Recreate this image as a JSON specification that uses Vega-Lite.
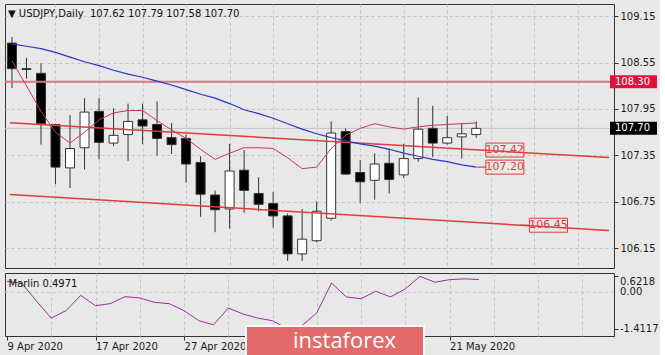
{
  "$schema": "https://vega.github.io/schema/vega-lite/v6.json",
  "background": "#e8e8e8",
  "padding": {"left": 3, "top": 3, "right": 0, "bottom": 0},
  "spacing": 3,
  "config": {
    "view": {"stroke": "#333333", "strokeWidth": 1, "fill": "#e8e8e8"},
    "font": "DejaVu Sans",
    "axis": {"labelFont": "DejaVu Sans", "labelFontSize": 10, "labelColor": "#1a1a1a", "tickColor": "#333333", "domain": false, "gridColor": "#c4c4c4", "gridDash": [3, 3], "gridWidth": 1, "title": null},
    "title": {"font": "DejaVu Sans", "fontSize": 10, "fontWeight": "normal", "color": "#111111", "anchor": "start"}
  },
  "datasets": {
    "candles": [
      {"i": 0, "date": "9 Apr 2020", "open": 108.80, "high": 108.88, "low": 108.22, "close": 108.47, "ma": 108.79, "env": 108.57, "marlin": 0.42},
      {"i": 1, "date": "10 Apr 2020", "open": 108.47, "high": 108.61, "low": 108.34, "close": 108.46, "ma": 108.76, "env": 108.25, "marlin": 0.35},
      {"i": 2, "date": "13 Apr 2020", "open": 108.41, "high": 108.54, "low": 107.49, "close": 107.76, "ma": 108.73, "env": 107.92, "marlin": -0.34},
      {"i": 3, "date": "14 Apr 2020", "open": 107.75, "high": 107.76, "low": 106.98, "close": 107.20, "ma": 108.68, "env": 107.65, "marlin": -1.00},
      {"i": 4, "date": "15 Apr 2020", "open": 107.19, "high": 107.87, "low": 106.93, "close": 107.44, "ma": 108.62, "env": 107.51, "marlin": -0.71},
      {"i": 5, "date": "16 Apr 2020", "open": 107.45, "high": 108.09, "low": 107.17, "close": 107.91, "ma": 108.56, "env": 107.65, "marlin": -0.12},
      {"i": 6, "date": "17 Apr 2020", "open": 107.92, "high": 108.09, "low": 107.30, "close": 107.52, "ma": 108.51, "env": 107.81, "marlin": -0.52},
      {"i": 7, "date": "20 Apr 2020", "open": 107.51, "high": 107.96, "low": 107.47, "close": 107.61, "ma": 108.45, "env": 107.90, "marlin": -0.44},
      {"i": 8, "date": "21 Apr 2020", "open": 107.62, "high": 108.02, "low": 107.28, "close": 107.79, "ma": 108.40, "env": 107.93, "marlin": -0.17},
      {"i": 9, "date": "22 Apr 2020", "open": 107.81, "high": 108.02, "low": 107.50, "close": 107.73, "ma": 108.36, "env": 107.93, "marlin": -0.22},
      {"i": 10, "date": "23 Apr 2020", "open": 107.75, "high": 108.05, "low": 107.35, "close": 107.57, "ma": 108.31, "env": 107.80, "marlin": -0.39},
      {"i": 11, "date": "24 Apr 2020", "open": 107.58, "high": 107.77, "low": 107.37, "close": 107.49, "ma": 108.26, "env": 107.68, "marlin": -0.44},
      {"i": 12, "date": "27 Apr 2020", "open": 107.57, "high": 107.62, "low": 107.00, "close": 107.24, "ma": 108.20, "env": 107.57, "marlin": -0.71},
      {"i": 13, "date": "28 Apr 2020", "open": 107.26, "high": 107.34, "low": 106.56, "close": 106.85, "ma": 108.14, "env": 107.43, "marlin": -1.10},
      {"i": 14, "date": "29 Apr 2020", "open": 106.84, "high": 106.90, "low": 106.36, "close": 106.65, "ma": 108.09, "env": 107.30, "marlin": -1.26},
      {"i": 15, "date": "30 Apr 2020", "open": 106.66, "high": 107.50, "low": 106.41, "close": 107.15, "ma": 108.02, "env": 107.38, "marlin": -0.61},
      {"i": 16, "date": "1 May 2020", "open": 107.16, "high": 107.42, "low": 106.61, "close": 106.90, "ma": 107.94, "env": 107.45, "marlin": -0.84},
      {"i": 17, "date": "4 May 2020", "open": 106.86, "high": 107.07, "low": 106.63, "close": 106.72, "ma": 107.89, "env": 107.45, "marlin": -1.00},
      {"i": 18, "date": "5 May 2020", "open": 106.73, "high": 106.88, "low": 106.42, "close": 106.57, "ma": 107.83, "env": 107.44, "marlin": -1.10},
      {"i": 19, "date": "6 May 2020", "open": 106.57, "high": 106.60, "low": 105.99, "close": 106.08, "ma": 107.76, "env": 107.32, "marlin": -1.41},
      {"i": 20, "date": "7 May 2020", "open": 106.08, "high": 106.66, "low": 105.99, "close": 106.27, "ma": 107.69, "env": 107.18, "marlin": -1.29},
      {"i": 21, "date": "8 May 2020", "open": 106.25, "high": 106.76, "low": 106.23, "close": 106.63, "ma": 107.63, "env": 107.20, "marlin": -0.80},
      {"i": 22, "date": "11 May 2020", "open": 106.54, "high": 107.79, "low": 106.51, "close": 107.64, "ma": 107.58, "env": 107.44, "marlin": 0.36},
      {"i": 23, "date": "12 May 2020", "open": 107.66, "high": 107.70, "low": 107.10, "close": 107.11, "ma": 107.54, "env": 107.61, "marlin": -0.18},
      {"i": 24, "date": "13 May 2020", "open": 107.13, "high": 107.29, "low": 106.74, "close": 107.01, "ma": 107.50, "env": 107.70, "marlin": -0.25},
      {"i": 25, "date": "14 May 2020", "open": 107.03, "high": 107.38, "low": 106.78, "close": 107.24, "ma": 107.47, "env": 107.76, "marlin": 0.04},
      {"i": 26, "date": "15 May 2020", "open": 107.25, "high": 107.44, "low": 106.86, "close": 107.04, "ma": 107.43, "env": 107.72, "marlin": -0.18},
      {"i": 27, "date": "18 May 2020", "open": 107.10, "high": 107.50, "low": 107.06, "close": 107.31, "ma": 107.38, "env": 107.69, "marlin": 0.13},
      {"i": 28, "date": "19 May 2020", "open": 107.31, "high": 108.10, "low": 107.27, "close": 107.69, "ma": 107.34, "env": 107.72, "marlin": 0.62},
      {"i": 29, "date": "20 May 2020", "open": 107.70, "high": 107.99, "low": 107.33, "close": 107.51, "ma": 107.30, "env": 107.74, "marlin": 0.39},
      {"i": 30, "date": "21 May 2020", "open": 107.51, "high": 107.86, "low": 107.49, "close": 107.58, "ma": 107.27, "env": 107.75, "marlin": 0.49},
      {"i": 31, "date": "22 May 2020", "open": 107.59, "high": 107.77, "low": 107.31, "close": 107.63, "ma": 107.23, "env": 107.76, "marlin": 0.52},
      {"i": 32, "date": "25 May 2020", "open": 107.62, "high": 107.79, "low": 107.58, "close": 107.70, "ma": 107.20, "env": 107.77, "marlin": 0.4971}
    ],
    "levels": [
      {"name": "resistance", "price": 108.30},
      {"name": "bid", "price": 107.70}
    ],
    "trend": [
      {"line": "upper", "i": -0.136, "price": 107.773},
      {"line": "upper", "i": 41.15, "price": 107.324},
      {"line": "lower", "i": -0.136, "price": 106.847},
      {"line": "lower", "i": 41.15, "price": 106.382}
    ],
    "labels": [
      {"label": "107.42", "i": 33.97, "price": 107.42},
      {"label": "107.20", "i": 33.97, "price": 107.20},
      {"label": "106.45", "i": 36.98, "price": 106.45}
    ],
    "marlinScale": [
      {"v": 0.6218, "t": "0.6218"},
      {"v": 0, "t": "0.00"},
      {"v": -1.4117, "t": "-1.4117"}
    ]
  },
  "vconcat": [
    {
      "width": 609,
      "height": 264,
      "title": {"text": "▼\u00a0USDJPY,Daily\u00a0\u00a0107.62\u00a0107.79\u00a0107.58\u00a0107.70", "offset": -15, "dx": 4},
      "layer": [
        {
          "data": {"name": "levels"},
          "transform": [{"filter": "datum.name == 'bid'"}],
          "mark": {"type": "rule", "color": "#c2c2c2", "strokeWidth": 1},
          "encoding": {
            "y": {"field": "price", "type": "quantitative", "scale": {"domain": [105.898, 109.305], "nice": false, "zero": false},
                  "axis": {"orient": "right", "values": [106.15, 106.75, 107.35, 107.95, 108.55, 109.15], "format": ".2f", "tickSize": 4, "labelPadding": 2, "grid": true, "title": null}}
          }
        },
        {
          "data": {"name": "candles"},
          "mark": {"type": "rule", "color": "#333333", "strokeWidth": 1, "clip": true},
          "encoding": {
            "x": {"field": "i", "type": "quantitative", "scale": {"domain": [-0.136, 41.15], "nice": false, "zero": false},
                  "axis": {"orient": "bottom", "values": [3, 6, 9, 12, 15, 18, 21, 24, 27, 30, 33, 36, 39], "labels": false, "ticks": false, "grid": true, "title": null}},
            "y": {"field": "low", "type": "quantitative", "scale": {"domain": [105.898, 109.305], "nice": false, "zero": false}},
            "y2": {"field": "high"}
          }
        },
        {
          "data": {"name": "candles"},
          "mark": {"type": "bar", "size": 9, "stroke": "#333333", "strokeWidth": 1, "clip": true},
          "encoding": {
            "x": {"field": "i", "type": "quantitative", "scale": {"domain": [-0.136, 41.15], "nice": false, "zero": false}},
            "y": {"field": "open", "type": "quantitative", "scale": {"domain": [105.898, 109.305], "nice": false, "zero": false}},
            "y2": {"field": "close"},
            "fill": {"condition": {"test": "datum.close >= datum.open", "value": "#ffffff"}, "value": "#000000"}
          }
        },
        {
          "data": {"name": "levels"},
          "transform": [{"filter": "datum.name == 'resistance'"}],
          "mark": {"type": "rule", "color": "#de7280", "strokeWidth": 2},
          "encoding": {
            "y": {"field": "price", "type": "quantitative", "scale": {"domain": [105.898, 109.305], "nice": false, "zero": false}}
          }
        },
        {
          "data": {"name": "trend"},
          "mark": {"type": "line", "color": "#e23b3b", "strokeWidth": 1.5, "clip": true},
          "encoding": {
            "x": {"field": "i", "type": "quantitative", "scale": {"domain": [-0.136, 41.15], "nice": false, "zero": false}},
            "y": {"field": "price", "type": "quantitative", "scale": {"domain": [105.898, 109.305], "nice": false, "zero": false}},
            "detail": {"field": "line"}
          }
        },
        {
          "data": {"name": "candles"},
          "mark": {"type": "line", "color": "#c8385c", "strokeWidth": 1, "clip": true},
          "encoding": {
            "x": {"field": "i", "type": "quantitative", "scale": {"domain": [-0.136, 41.15], "nice": false, "zero": false}},
            "y": {"field": "env", "type": "quantitative", "scale": {"domain": [105.898, 109.305], "nice": false, "zero": false}}
          }
        },
        {
          "data": {"name": "candles"},
          "mark": {"type": "line", "color": "#2b35c9", "strokeWidth": 1.2, "clip": true},
          "encoding": {
            "x": {"field": "i", "type": "quantitative", "scale": {"domain": [-0.136, 41.15], "nice": false, "zero": false}},
            "y": {"field": "ma", "type": "quantitative", "scale": {"domain": [105.898, 109.305], "nice": false, "zero": false}}
          }
        },
        {
          "data": {"name": "labels"},
          "transform": [{"filter": "datum.label != '107.42'"}],
          "mark": {"type": "rule", "color": "#e23b3b", "strokeWidth": 1.2, "xOffset": -28, "x2Offset": -19},
          "encoding": {
            "x": {"field": "i", "type": "quantitative", "scale": {"domain": [-0.136, 41.15], "nice": false, "zero": false}},
            "x2": {"field": "i"},
            "y": {"field": "price", "type": "quantitative", "scale": {"domain": [105.898, 109.305], "nice": false, "zero": false}}
          }
        },
        {
          "data": {"name": "labels"},
          "mark": {"type": "rect", "fillOpacity": 0, "stroke": "#e23b3b", "strokeWidth": 1, "xOffset": -19, "x2Offset": 19, "yOffset": -7, "y2Offset": 7},
          "encoding": {
            "x": {"field": "i", "type": "quantitative", "scale": {"domain": [-0.136, 41.15], "nice": false, "zero": false}},
            "x2": {"field": "i"},
            "y": {"field": "price", "type": "quantitative", "scale": {"domain": [105.898, 109.305], "nice": false, "zero": false}},
            "y2": {"field": "price"}
          }
        },
        {
          "data": {"name": "labels"},
          "mark": {"type": "text", "color": "#e23b3b", "fontSize": 11, "align": "center", "baseline": "middle", "font": "DejaVu Sans"},
          "encoding": {
            "x": {"field": "i", "type": "quantitative", "scale": {"domain": [-0.136, 41.15], "nice": false, "zero": false}},
            "y": {"field": "price", "type": "quantitative", "scale": {"domain": [105.898, 109.305], "nice": false, "zero": false}},
            "text": {"field": "label"}
          }
        },
        {
          "data": {"name": "levels"},
          "mark": {"type": "rect", "clip": false, "xOffset": 1, "x2Offset": 48, "yOffset": -6.5, "y2Offset": 6.5},
          "encoding": {
            "x": {"datum": 41.15, "type": "quantitative", "scale": {"domain": [-0.136, 41.15], "nice": false, "zero": false}},
            "x2": {"datum": 41.15},
            "y": {"field": "price", "type": "quantitative", "scale": {"domain": [105.898, 109.305], "nice": false, "zero": false}},
            "y2": {"field": "price"},
            "fill": {"condition": {"test": "datum.name == 'bid'", "value": "#000000"}, "value": "#dc143c"}
          }
        },
        {
          "data": {"name": "levels"},
          "mark": {"type": "text", "clip": false, "color": "#ffffff", "fontSize": 10, "align": "left", "baseline": "middle", "dx": 6, "font": "DejaVu Sans"},
          "encoding": {
            "x": {"datum": 41.15, "type": "quantitative", "scale": {"domain": [-0.136, 41.15], "nice": false, "zero": false}},
            "y": {"field": "price", "type": "quantitative", "scale": {"domain": [105.898, 109.305], "nice": false, "zero": false}},
            "text": {"field": "price", "format": ".2f"}
          }
        }
      ]
    },
    {
      "width": 609,
      "height": 63,
      "title": {"text": "Marlin 0.4971", "offset": -16, "dx": 4},
      "layer": [
        {
          "data": {"name": "marlinScale"},
          "transform": [{"filter": "datum.v == 0"}],
          "mark": {"type": "rule", "color": "#c4c4c4", "strokeWidth": 1, "strokeDash": [3, 3]},
          "encoding": {
            "y": {"field": "v", "type": "quantitative", "scale": {"domain": [-1.694, 0.748], "nice": false, "zero": false},
                  "axis": {"orient": "right", "values": [0.6218, 0, -1.4117], "title": null, "tickSize": 4, "labels": false, "grid": false}}
          }
        },
        {
          "data": {"name": "candles"},
          "mark": {"type": "line", "color": "#9a2f9a", "strokeWidth": 1, "clip": true},
          "encoding": {
            "x": {"field": "i", "type": "quantitative", "scale": {"domain": [-0.136, 41.15], "nice": false, "zero": false},
                  "axis": {"orient": "bottom", "values": [0, 3, 6, 9, 12, 15, 18, 21, 24, 27, 30, 33, 36, 39], "title": null,
                           "labelExpr": "datum.value == 0 ? '9 Apr 2020' : datum.value == 6 ? '17 Apr 2020' : datum.value == 12 ? '27 Apr 2020' : datum.value == 30 ? '21 May 2020' : ''",
                           "labelAlign": "left", "labelBaseline": "top", "labelPadding": 1, "labelOverlap": false, "labelFlush": false, "labelBound": false,
                           "tickSize": 4, "tickOpacity": {"condition": {"test": "datum.value % 6 === 0 && datum.value <= 30", "value": 1}, "value": 0},
                           "grid": true, "gridOpacity": {"condition": {"test": "datum.value == 0", "value": 0}, "value": 1}}},
            "y": {"field": "marlin", "type": "quantitative", "scale": {"domain": [-1.694, 0.748], "nice": false, "zero": false}}
          }
        },
        {
          "data": {"name": "marlinScale"},
          "transform": [{"filter": "datum.v > 0.5"}],
          "mark": {"type": "text", "clip": false, "color": "#1a1a1a", "fontSize": 10, "align": "left", "baseline": "middle", "dx": 6, "dy": 6, "font": "DejaVu Sans"},
          "encoding": {
            "x": {"datum": 41.15, "type": "quantitative", "scale": {"domain": [-0.136, 41.15], "nice": false, "zero": false}},
            "y": {"field": "v", "type": "quantitative", "scale": {"domain": [-1.694, 0.748], "nice": false, "zero": false}},
            "text": {"field": "t"}
          }
        },
        {
          "data": {"name": "marlinScale"},
          "transform": [{"filter": "datum.v <= 0.5"}],
          "mark": {"type": "text", "clip": false, "color": "#1a1a1a", "fontSize": 10, "align": "left", "baseline": "middle", "dx": 6, "font": "DejaVu Sans"},
          "encoding": {
            "x": {"datum": 41.15, "type": "quantitative", "scale": {"domain": [-0.136, 41.15], "nice": false, "zero": false}},
            "y": {"field": "v", "type": "quantitative", "scale": {"domain": [-1.694, 0.748], "nice": false, "zero": false}},
            "text": {"field": "t"}
          }
        },
        {
          "data": {"values": [{"brand": "instaforex"}]},
          "mark": {"type": "rect", "clip": false, "fill": "#e36a6a", "stroke": "#ffffff", "strokeWidth": 2},
          "encoding": {
            "x": {"datum": 16.2, "type": "quantitative", "scale": {"domain": [-0.136, 41.15], "nice": false, "zero": false}},
            "x2": {"datum": 28.27},
            "y": {"datum": -1.306, "type": "quantitative", "scale": {"domain": [-1.694, 0.748], "nice": false, "zero": false}},
            "y2": {"datum": -2.508}
          }
        },
        {
          "data": {"values": [{"brand": "instaforex"}]},
          "mark": {"type": "text", "clip": false, "color": "#ffffff", "fontSize": 22, "font": "Open Sans", "align": "left", "baseline": "middle"},
          "encoding": {
            "x": {"datum": 19.39, "type": "quantitative", "scale": {"domain": [-0.136, 41.15], "nice": false, "zero": false}},
            "y": {"datum": -1.907, "type": "quantitative", "scale": {"domain": [-1.694, 0.748], "nice": false, "zero": false}},
            "text": {"field": "brand"}
          }
        }
      ]
    }
  ]
}
